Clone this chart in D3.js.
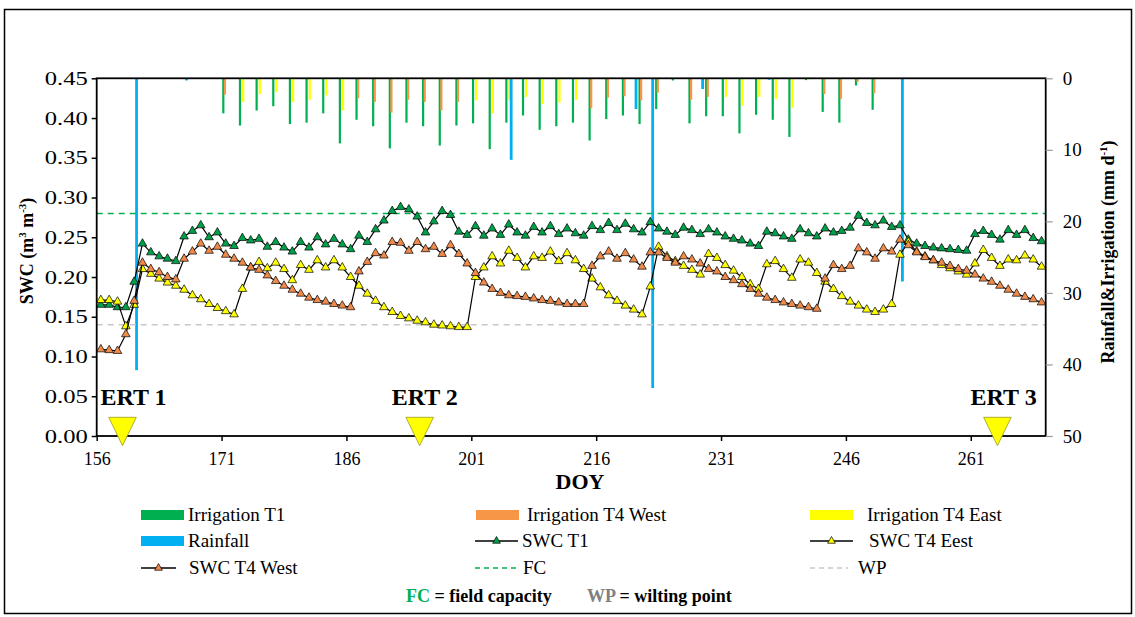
<!DOCTYPE html>
<html>
<head>
<meta charset="utf-8">
<script src="https://cdn.jsdelivr.net/npm/d3@7/dist/d3.min.js"></script>
<style>
    body { margin: 0; background: #fff; }
    svg { display: block; font-family: "Liberation Serif", "Times New Roman", serif; }
</style>
</head>
<body>
<div id="chart"></div>
<script>
// Daily SWC series (DOY 156..269)
const days = d3.range(156, 270);
const swcT1 = [
    0.165, 0.165, 0.162, 0.162, 0.194, 0.242, 0.231, 0.226, 0.223, 0.220,
    0.251, 0.258, 0.265, 0.250, 0.256, 0.242, 0.239, 0.249, 0.246, 0.248,
    0.238, 0.244, 0.237, 0.232, 0.244, 0.237, 0.250, 0.241, 0.248, 0.241,
    0.235, 0.252, 0.244, 0.260, 0.271, 0.283, 0.288, 0.285, 0.276, 0.256,
    0.270, 0.283, 0.278, 0.257, 0.253, 0.264, 0.252, 0.261, 0.253, 0.266,
    0.256, 0.252, 0.263, 0.256, 0.264, 0.254, 0.261, 0.255, 0.252, 0.264,
    0.259, 0.268, 0.259, 0.267, 0.260, 0.256, 0.269, 0.261, 0.257, 0.253,
    0.262, 0.259, 0.254, 0.260, 0.256, 0.251, 0.248, 0.246, 0.242, 0.239,
    0.257, 0.255, 0.251, 0.248, 0.260, 0.255, 0.251, 0.261, 0.256, 0.258,
    0.262, 0.277, 0.268, 0.265, 0.271, 0.263, 0.265, 0.247, 0.242, 0.239,
    0.237, 0.236, 0.235, 0.234, 0.233, 0.254, 0.258, 0.253, 0.247, 0.259,
    0.253, 0.259, 0.249, 0.245
];
const swcT4West = [
    0.109, 0.108, 0.107, 0.128, 0.170, 0.218, 0.210, 0.206, 0.200, 0.197,
    0.223, 0.232, 0.242, 0.233, 0.238, 0.228, 0.223, 0.218, 0.212, 0.209,
    0.202, 0.195, 0.189, 0.184, 0.179, 0.174, 0.171, 0.169, 0.166, 0.164,
    0.162, 0.207, 0.219, 0.230, 0.227, 0.244, 0.243, 0.233, 0.244, 0.235,
    0.238, 0.229, 0.240, 0.229, 0.217, 0.205, 0.193, 0.185, 0.180, 0.177,
    0.176, 0.175, 0.173, 0.171, 0.170, 0.168, 0.166, 0.166, 0.166, 0.214,
    0.226, 0.232, 0.223, 0.230, 0.222, 0.213, 0.231, 0.231, 0.224, 0.218,
    0.226, 0.222, 0.217, 0.210, 0.207, 0.200, 0.196, 0.191, 0.185, 0.179,
    0.174, 0.171, 0.168, 0.166, 0.164, 0.162, 0.160, 0.198, 0.215, 0.210,
    0.214, 0.236, 0.231, 0.223, 0.236, 0.232, 0.247, 0.240, 0.231, 0.225,
    0.221, 0.218, 0.214, 0.210, 0.208, 0.203, 0.198, 0.194, 0.189, 0.184,
    0.179, 0.175, 0.172, 0.168
];
const swcT4East = [
    0.171, 0.171, 0.169, 0.138, 0.165, 0.210, 0.204, 0.198, 0.193, 0.189,
    0.184, 0.177, 0.172, 0.166, 0.161, 0.157, 0.153, 0.185, 0.212, 0.219,
    0.211, 0.218, 0.210, 0.196, 0.215, 0.209, 0.221, 0.212, 0.221, 0.212,
    0.200, 0.189, 0.179, 0.170, 0.162, 0.156, 0.151, 0.148, 0.145, 0.143,
    0.140, 0.139, 0.138, 0.137, 0.137, 0.200, 0.212, 0.226, 0.217, 0.233,
    0.224, 0.212, 0.226, 0.224, 0.232, 0.220, 0.230, 0.221, 0.210, 0.198,
    0.187, 0.177, 0.170, 0.164, 0.159, 0.153, 0.188, 0.238, 0.226, 0.220,
    0.214, 0.209, 0.203, 0.229, 0.224, 0.215, 0.208, 0.200, 0.191, 0.185,
    0.216, 0.220, 0.210, 0.199, 0.222, 0.218, 0.205, 0.194, 0.185, 0.176,
    0.169, 0.164, 0.159, 0.156, 0.159, 0.166, 0.228, 0.244, 0.232, 0.226,
    0.221, 0.215, 0.211, 0.207, 0.203, 0.217, 0.234, 0.224, 0.214, 0.222,
    0.221, 0.227, 0.222, 0.213
];

// Irrigation (mm/d), every second day from DOY 171 to 249
const irrDays = d3.range(171, 250, 2);
const irrT1 = [
    4.9, 6.6, 4.5, 3.9, 6.4, 6.2, 4.9, 9.1,
    5.8, 6.7, 9.8, 6.2, 6.7, 9.4, 6.6,
    6.3, 9.9, 6.2, 5.2, 7.2, 6.7, 6.2,
    8.7, 5.7, 5.2, 6.4, 4.3, 0.3, 6.3, 5.3,
    5.3, 7.7, 5.1, 5.8, 8.2, 0.25,
    4.7, 6.2, 1.0, 4.4
];
const irrT4West = [
    2.3, 0, 0, 0, 0, 0, 0, 0,
    2.8, 3.3, 4.8, 3.0, 3.3, 4.5, 3.3,
    0, 0, 0, 0, 0, 0, 0,
    4.2, 2.7, 2.5, 3.1, 2.0, 0, 3.0, 2.6,
    0, 0, 0, 0, 0, 0,
    2.2, 2.9, 0.5, 2.1
];
const irrT4East = [
    0, 3.3, 2.2, 1.9, 3.3, 3.0, 2.4, 4.5,
    0, 0, 0, 0, 0, 0, 0,
    3.1, 4.9, 3.0, 2.6, 3.6, 3.4, 3.0,
    0, 0, 0, 0, 0, 0, 0, 0,
    2.6, 3.8, 2.6, 2.9, 4.1, 0.15,
    0, 0, 0, 0
];
const rainDays = [160, 166, 205, 220, 222, 228, 236, 252];
const rain = [40.8, 0.3, 11.4, 4.3, 43.3, 1.5, 0.2, 28.4];

const fc = 0.28;
const wp = 0.14;
const ertDays = [159.1, 194.8, 264.2];
const ertLabels = ['ERT 1', 'ERT 2', 'ERT 3'];
const xTicks = d3.range(156, 262, 15);
const yTicks = d3.range(0, 0.46, 0.05);
const y2Ticks = [0, 10, 20, 30, 40, 50];

const colors = {
    t1Bar: '#00b050', t4wBar: '#f79646', t4eBar: '#ffff00', rain: '#00b0f0',
    t1Mark: '#00a04a', t4wMark: '#f08a4b', t4eMark: '#ffff00'
};

const width = 1135, height = 617;
const plot = { left: 96.7, right: 1045.7, top: 78.3, bottom: 436 };

const svg = d3.select('#chart').append('svg')
    .attr('width', width)
    .attr('height', height);

svg.append('rect')
    .attr('x', 4.5).attr('y', 9.5)
    .attr('width', 1127).attr('height', 604)
    .attr('fill', '#fff').attr('stroke', '#000').attr('stroke-width', 1.5);

// Scales
const x = d3.scaleLinear().domain([156, 270]).range([plot.left, plot.right]);
const y = d3.scaleLinear().domain([0, 0.45]).range([plot.bottom, plot.top]);
const y2 = d3.scaleLinear().domain([0, 50]).range([plot.top, plot.bottom]);
const slot = d3.scaleBand().domain(['T1', 'T4W', 'T4E', 'Rain']).range([-3.2, 3.2]);

// Bars hanging from the top (right axis)
const bars = [];
irrDays.forEach((d, i) => {
    bars.push({ day: d, key: 'T1', v: irrT1[i], c: colors.t1Bar });
    bars.push({ day: d, key: 'T4W', v: irrT4West[i], c: colors.t4wBar });
    bars.push({ day: d, key: 'T4E', v: irrT4East[i], c: colors.t4eBar });
});
rainDays.forEach((d, i) => bars.push({ day: d, key: 'Rain', v: rain[i], c: colors.rain }));

svg.append('g').selectAll('rect')
    .data(bars.filter(b => b.v > 0))
    .enter()
    .append('rect')
    .attr('x', d => x(d.day + 0.5) + slot(d.key) + slot.bandwidth() / 2 - (d.key === 'Rain' ? 1.4 : 1.1))
    .attr('y', y2(0))
    .attr('width', d => d.key === 'Rain' ? 2.8 : 2.2)
    .attr('height', d => y2(d.v) - y2(0))
    .attr('fill', d => d.c);

// FC / WP reference lines
svg.append('line')
    .attr('x1', plot.left).attr('x2', plot.right)
    .attr('y1', y(fc)).attr('y2', y(fc))
    .attr('stroke', '#00b050').attr('stroke-width', 1.4).attr('stroke-dasharray', '6,5');
svg.append('line')
    .attr('x1', plot.left).attr('x2', plot.right)
    .attr('y1', y(wp)).attr('y2', y(wp))
    .attr('stroke', '#c8c8c8').attr('stroke-width', 1.4).attr('stroke-dasharray', '6,5');

// SWC lines with triangle markers
const series = [
    { vals: swcT1, fill: colors.t1Mark },
    { vals: swcT4East, fill: colors.t4eMark },
    { vals: swcT4West, fill: colors.t4wMark }
];
const line = d3.line().x(d => x(d.day + 0.5)).y(d => y(d.v));
const tri = d3.symbol().type(d3.symbolTriangle).size(32);

series.forEach(s => {
    const pts = days.map((d, i) => ({ day: d, v: s.vals[i] }));
    svg.append('path')
        .datum(pts)
        .attr('d', line)
        .attr('fill', 'none')
        .attr('stroke', '#000')
        .attr('stroke-width', 1.2);
    svg.append('g').selectAll('path')
        .data(pts)
        .enter()
        .append('path')
        .attr('d', tri)
        .attr('transform', d => `translate(${x(d.day + 0.5)},${y(d.v)})`)
        .attr('fill', s.fill)
        .attr('stroke', '#000')
        .attr('stroke-width', 0.7);
});

// Plot frame
svg.append('rect')
    .attr('x', plot.left).attr('y', plot.top)
    .attr('width', plot.right - plot.left).attr('height', plot.bottom - plot.top)
    .attr('fill', 'none').attr('stroke', '#000').attr('stroke-width', 1.8);

// Axes
const axLeft = svg.append('g')
    .attr('transform', `translate(${plot.left},0)`)
    .call(d3.axisLeft(y).tickValues(yTicks).tickSize(5).tickPadding(4).tickFormat(d3.format('.2f')));
axLeft.select('.domain').remove();
axLeft.selectAll('line').attr('stroke-width', 1.5);
axLeft.selectAll('text')
    .attr('font-family', 'Liberation Serif').attr('font-size', 19).attr('fill', '#000')
    .attr('textLength', 43).attr('lengthAdjust', 'spacingAndGlyphs');

const axRight = svg.append('g')
    .attr('transform', `translate(${plot.right},0)`)
    .call(d3.axisRight(y2).tickValues(y2Ticks).tickSize(7).tickPadding(10));
axRight.select('.domain').remove();
axRight.selectAll('line').attr('stroke', '#999').attr('stroke-width', 1.2);
axRight.selectAll('text')
    .attr('font-family', 'Liberation Serif').attr('font-size', 19).attr('fill', '#000');

const axBottom = svg.append('g')
    .attr('transform', `translate(0,${plot.bottom})`)
    .call(d3.axisBottom(x).tickValues(xTicks).tickSize(5).tickPadding(11));
axBottom.select('.domain').remove();
axBottom.selectAll('line').attr('stroke-width', 1.5);
axBottom.selectAll('text')
    .attr('font-family', 'Liberation Serif').attr('font-size', 18).attr('fill', '#000');

// ERT markers
svg.append('g').selectAll('path')
    .data(ertDays)
    .enter()
    .append('path')
    .attr('d', d => `M${x(d) - 13.8},${y(0) - 18.7}L${x(d) + 13.8},${y(0) - 18.7}L${x(d)},${y(0) + 9.7}Z`)
    .attr('fill', '#ffff00')
    .attr('stroke', '#9a9a20')
    .attr('stroke-width', 0.8);

const ertShift = [-22, -28, 0];
svg.append('g').selectAll('text')
    .data(ertDays)
    .enter()
    .append('text')
    .attr('x', (d, i) => i === 2 ? plot.right - 9 : x(d) + ertShift[i])
    .attr('y', 405)
    .attr('text-anchor', (d, i) => i === 2 ? 'end' : 'start')
    .attr('font-size', 24)
    .attr('font-weight', 'bold')
    .text((d, i) => ertLabels[i]);

// Axis titles
svg.append('text')
    .attr('x', 580).attr('y', 489)
    .attr('text-anchor', 'middle')
    .attr('font-size', 22).attr('font-weight', 'bold')
    .text('DOY');

const leftTitle = svg.append('text')
    .attr('transform', 'translate(33,251) rotate(-90)')
    .attr('text-anchor', 'middle')
    .attr('font-size', 18).attr('font-weight', 'bold');
leftTitle.append('tspan').text('SWC (m');
leftTitle.append('tspan').attr('font-size', 11).attr('dy', -7).text('3');
leftTitle.append('tspan').attr('dy', 7).text(' m');
leftTitle.append('tspan').attr('font-size', 11).attr('dy', -7).text('-3');
leftTitle.append('tspan').attr('dy', 7).text(')');

const rightTitle = svg.append('text')
    .attr('transform', 'translate(1114,252) rotate(-90)')
    .attr('text-anchor', 'middle')
    .attr('font-size', 18).attr('font-weight', 'bold');
rightTitle.append('tspan').text('Rainfall&Irrigation (mm d');
rightTitle.append('tspan').attr('font-size', 11).attr('dy', -7).text('-1');
rightTitle.append('tspan').attr('dy', 7).text(')');

// Legend
const legend = svg.append('g').attr('font-size', 19);
const legendItems = [
    { kind: 'rect', color: colors.t1Bar, label: 'Irrigation T1', lx: 141, tx: 188, ly: 515 },
    { kind: 'rect', color: colors.t4wBar, label: 'Irrigation T4 West', lx: 476, tx: 527, ly: 515 },
    { kind: 'rect', color: colors.t4eBar, label: 'Irrigation T4 East', lx: 810, tx: 867, ly: 515 },
    { kind: 'rect', color: colors.rain, label: 'Rainfall', lx: 141, tx: 188, ly: 541 },
    { kind: 'mark', color: colors.t1Mark, label: 'SWC T1', lx: 475, tx: 522, ly: 541 },
    { kind: 'mark', color: colors.t4eMark, label: 'SWC T4 Eest', lx: 810, tx: 869, ly: 541 },
    { kind: 'mark', color: colors.t4wMark, label: 'SWC T4 West', lx: 141, tx: 189, ly: 568, w: 35 },
    { kind: 'dash', color: '#00b050', label: 'FC', lx: 475, tx: 523, ly: 568 },
    { kind: 'dash', color: '#c8c8c8', label: 'WP', lx: 810, tx: 858, ly: 568, w: 38 }
];
legendItems.forEach(it => {
    const w = it.w || 43;
    if (it.kind === 'rect') {
        legend.append('rect')
            .attr('x', it.lx).attr('y', it.ly - 5)
            .attr('width', w).attr('height', 10)
            .attr('fill', it.color);
    } else if (it.kind === 'mark') {
        legend.append('line')
            .attr('x1', it.lx).attr('x2', it.lx + w)
            .attr('y1', it.ly).attr('y2', it.ly)
            .attr('stroke', '#000').attr('stroke-width', 1.3);
        legend.append('path')
            .attr('d', d3.symbol().type(d3.symbolTriangle).size(26))
            .attr('transform', `translate(${it.lx + w / 2},${it.ly})`)
            .attr('fill', it.color).attr('stroke', '#000').attr('stroke-width', 0.7);
    } else {
        legend.append('line')
            .attr('x1', it.lx).attr('x2', it.lx + w)
            .attr('y1', it.ly).attr('y2', it.ly)
            .attr('stroke', it.color).attr('stroke-width', 1.4).attr('stroke-dasharray', '5,4');
    }
    legend.append('text')
        .attr('x', it.tx).attr('y', it.ly + 6)
        .text(it.label);
});

const note = svg.append('text')
    .attr('x', 406).attr('y', 602)
    .attr('font-size', 18).attr('font-weight', 'bold');
note.append('tspan').attr('fill', '#00b050').text('FC');
note.append('tspan').attr('fill', '#000').text(' = field capacity');
note.append('tspan').attr('x', 587).attr('fill', '#808080').text('WP');
note.append('tspan').attr('fill', '#000').text(' = wilting point');
</script>
</body>
</html>
